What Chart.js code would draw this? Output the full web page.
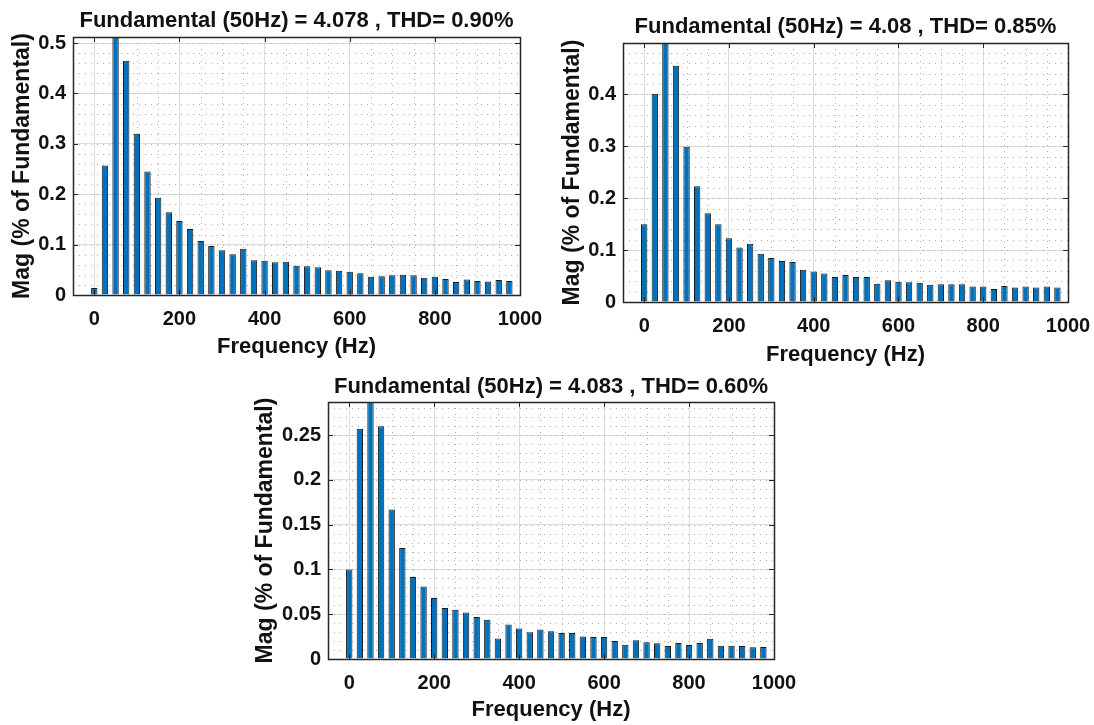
<!DOCTYPE html>
<html>
<head>
<meta charset="utf-8">
<script src="https://cdn.jsdelivr.net/npm/chart.js@4.4.1/dist/chart.umd.min.js"></script>
<style>
  body { margin: 0; background: #fff; }
  #page { position: relative; width: 1094px; height: 725px; }
  canvas { position: absolute; }
</style>
</head>
<body>
<div id="page">
  <canvas id="fft1" width="548" height="360" style="left:0px;top:0px"></canvas>
  <canvas id="fft2" width="544" height="368" style="left:550px;top:0px"></canvas>
  <canvas id="fft3" width="560" height="363" style="left:240px;top:360px"></canvas>
</div>
<script>
// harmonic frequencies (Hz), one bar every 25 Hz
const freqs = [0, 25, 50, 75, 100, 125, 150, 175, 200, 225,
  250, 275, 300, 325, 350, 375, 400, 425, 450, 475,
  500, 525, 550, 575, 600, 625, 650, 675, 700, 725,
  750, 775, 800, 825, 850, 875, 900, 925, 950, 975];

// magnitudes in % of fundamental (50 Hz bar = 100, clipped by the zoomed axis)
const mag1 = [0.014, 0.257, 100, 0.465, 0.320, 0.245, 0.193, 0.164, 0.147, 0.131,
  0.107, 0.097, 0.089, 0.081, 0.092, 0.069, 0.068, 0.065, 0.066, 0.058,
  0.057, 0.055, 0.049, 0.048, 0.046, 0.043, 0.036, 0.037, 0.039, 0.040,
  0.039, 0.034, 0.036, 0.032, 0.026, 0.031, 0.028, 0.027, 0.030, 0.028];
const mag2 = [0.150, 0.401, 100, 0.455, 0.299, 0.223, 0.171, 0.150, 0.123, 0.105,
  0.112, 0.093, 0.085, 0.079, 0.077, 0.062, 0.059, 0.055, 0.048, 0.052,
  0.048, 0.048, 0.035, 0.042, 0.039, 0.038, 0.037, 0.033, 0.034, 0.034,
  0.034, 0.030, 0.030, 0.025, 0.031, 0.028, 0.030, 0.028, 0.030, 0.028];
const mag3 = [0.100, 0.257, 100, 0.260, 0.167, 0.124, 0.0915, 0.081, 0.068, 0.057,
  0.055, 0.052, 0.047, 0.0437, 0.023, 0.0385, 0.034, 0.030, 0.033, 0.031,
  0.029, 0.029, 0.025, 0.0245, 0.0245, 0.020, 0.016, 0.021, 0.0186, 0.0175,
  0.0145, 0.018, 0.0156, 0.018, 0.0227, 0.0149, 0.0149, 0.0145, 0.013, 0.0134];

const titles = [
  "Fundamental (50Hz) = 4.078 , THD= 0.90%",
  "Fundamental (50Hz) = 4.08 , THD= 0.85%",
  "Fundamental (50Hz) = 4.083 , THD= 0.60%"
];

// tick labels
const xTicks = [0, 200, 400, 600, 800, 1000];
const yTicks1 = [0, 0.1, 0.2, 0.3, 0.4, 0.5];
const yTicks2 = [0, 0.1, 0.2, 0.3, 0.4];
const yTicks3 = [0, 0.05, 0.1, 0.15, 0.2, 0.25];

const FONT = "'Liberation Sans', Arial, Helvetica, sans-serif";
const INK = "#111";

// minor dotted grid + box with inward ticks, like a matlab axes
const matlabAxes = {
  id: "matlabAxes",
  beforeDatasetsDraw(chart, args, opts) {
    const { ctx, chartArea: a, scales: { x, y } } = chart;
    ctx.save();
    ctx.beginPath();
    ctx.rect(a.left, a.top, a.width, a.height);
    ctx.clip();
    ctx.strokeStyle = "#b0b0b0";
    ctx.lineWidth = 1;
    ctx.setLineDash([1, 5]);
    for (let v = x.min; v <= x.max; v += opts.xStep) {
      if (xTicks.includes(v)) continue;
      const px = Math.round(x.getPixelForValue(v)) + 0.5;
      ctx.beginPath(); ctx.moveTo(px, a.top); ctx.lineTo(px, a.bottom); ctx.stroke();
    }
    for (let k = 1; k * opts.yStep < y.max; k++) {
      const v = k * opts.yStep;
      const py = Math.round(y.getPixelForValue(v)) + 0.5;
      ctx.beginPath(); ctx.moveTo(a.left, py); ctx.lineTo(a.right, py); ctx.stroke();
    }
    ctx.restore();
  },
  afterDatasetsDraw(chart, args, opts) {
    const { ctx, chartArea: a, scales: { x, y } } = chart;
    const t = 5;
    ctx.save();
    ctx.strokeStyle = "#262626";
    ctx.lineWidth = 1;
    ctx.beginPath();
    x.ticks.forEach(tk => {
      const px = Math.round(x.getPixelForValue(tk.value)) + 0.5;
      ctx.moveTo(px, a.bottom); ctx.lineTo(px, a.bottom - t);
      ctx.moveTo(px, a.top); ctx.lineTo(px, a.top + t);
    });
    y.ticks.forEach(tk => {
      const py = Math.round(y.getPixelForValue(tk.value)) + 0.5;
      ctx.moveTo(a.left, py); ctx.lineTo(a.left + t, py);
      ctx.moveTo(a.right, py); ctx.lineTo(a.right - t, py);
    });
    ctx.stroke();
    ctx.lineWidth = 1.5;
    ctx.strokeRect(Math.round(a.left) + 0.5, Math.round(a.top) + 0.5,
      Math.round(a.width), Math.round(a.height));
    ctx.restore();
  }
};

function makeFFT(id, mags, title, yTicks, yMax, yStep, lay) {
  const points = freqs.map((f, i) => ({ x: f, y: mags[i] }));
  return new Chart(document.getElementById(id), {
    type: "bar",
    data: {
      datasets: [{
        data: points,
        backgroundColor: "#0072BD",
        borderColor: "#1a1a1a",
        borderWidth: 1,
        barPercentage: 0.6,
        categoryPercentage: 1
      }]
    },
    options: {
      responsive: false,
      animation: false,
      layout: { padding: { left: lay.padLeft, right: lay.padRight, top: 0, bottom: 0 } },
      plugins: {
        legend: { display: false },
        tooltip: { enabled: false },
        title: {
          display: true,
          text: title,
          fullSize: false,
          color: INK,
          font: { family: FONT, size: 22, weight: "bold" },
          padding: { top: lay.titleTop, bottom: lay.titleBottom }
        },
        matlabAxes: { xStep: 50, yStep: yStep }
      },
      scales: {
        x: {
          type: "linear",
          min: -50,
          max: 1000,
          offset: false,
          afterBuildTicks: s => { s.ticks = xTicks.map(v => ({ value: v })); },
          afterFit: s => {
            s.height = lay.xHeight;
            // let the "1000" label hang out past the plot, like matlab
            s.paddingLeft = 0;
            s.paddingRight = 0;
          },
          ticks: {
            color: INK,
            padding: 12,
            maxRotation: 0,
            font: { family: FONT, size: 20, weight: "bold" },
            callback: v => String(v)
          },
          grid: { color: "#dcdcdc", lineWidth: 1, drawTicks: false, offset: false },
          border: { display: false },
          title: {
            display: true,
            text: "Frequency (Hz)",
            color: INK,
            padding: 0,
            font: { family: FONT, size: 22, weight: "bold" }
          }
        },
        y: {
          min: 0,
          max: yMax,
          afterBuildTicks: s => { s.ticks = yTicks.map(v => ({ value: v })); },
          afterFit: s => { s.width = lay.yWidth; },
          ticks: {
            color: INK,
            padding: 7,
            font: { family: FONT, size: 20, weight: "bold" },
            callback: v => String(v)
          },
          grid: { color: "#dcdcdc", lineWidth: 1, drawTicks: false },
          border: { display: false },
          title: {
            display: true,
            text: "Mag (% of Fundamental)",
            color: INK,
            padding: 0,
            font: { family: FONT, size: 23, weight: "bold" }
          }
        }
      }
    },
    plugins: [matlabAxes]
  });
}

makeFFT("fft1", mag1, titles[0], yTicks1, 0.512, 0.02,
  { padLeft: 9, padRight: 28, titleTop: 7.8, titleBottom: 2.8, yWidth: 64, xHeight: 65 });
makeFFT("fft2", mag2, titles[1], yTicks2, 0.499, 0.02,
  { padLeft: 9, padRight: 26, titleTop: 13.8, titleBottom: 2.8, yWidth: 64, xHeight: 66 });
makeFFT("fft3", mag3, titles[2], yTicks3, 0.287, 0.01,
  { padLeft: 12, padRight: 26, titleTop: 13.8, titleBottom: 1.8, yWidth: 76, xHeight: 64 });
</script>
</body>
</html>
